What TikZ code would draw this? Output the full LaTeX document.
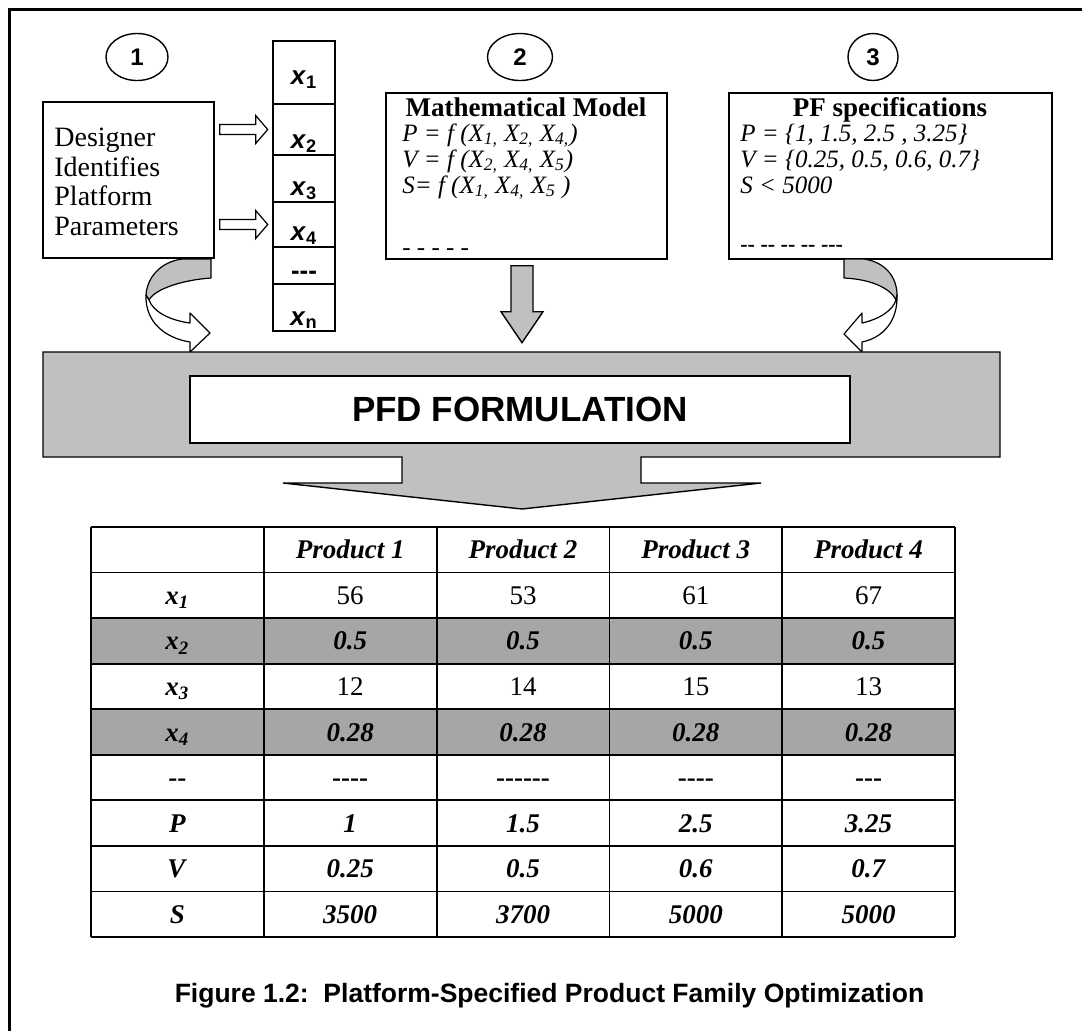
\documentclass[tikz,border=0pt]{standalone}
\usepackage{fontspec}
\setmainfont{Liberation Serif}
\newfontfamily\arialf{Liberation Sans}
\usetikzlibrary{positioning,calc,shapes.geometric}
\definecolor{cBar}{RGB}{192,192,192}
\definecolor{cRow}{RGB}{166,166,166}
\newcommand{\bi}[1]{\textbf{\textit{#1}}}
\newcommand{\tv}[1]{\bi{x\textsubscript{#1}}}
\tikzset{
  box/.style={draw, line width=0.7pt, fill=white, inner sep=0pt},
  numcirc/.style={draw, ellipse, line width=0.7pt, inner sep=0pt, minimum height=23.5pt,
    font=\arialf\bfseries\fontsize{12}{12}\selectfont},
  varcell/.style={draw, line width=0.9pt, minimum width=31pt, inner sep=0pt},
  varlbl/.style={anchor=base, inner sep=0pt, font=\arialf\bfseries\fontsize{13}{13}\selectfont},
  txtline/.style={anchor=base west, inner sep=0pt},
  hollow/.style={draw, line width=0.6pt, fill=white, line join=miter},
  ribbon/.style={draw, line width=0.6pt, line join=round},
  tcell/.style={anchor=base, inner sep=0pt, font=\fontsize{13.5}{14}\selectfont},
}

\begin{document}
\begin{tikzpicture}[x=0.5pt, y=-0.5pt]
\useasboundingbox (0,0) rectangle (1082,1030);
% frame
\draw[line width=1.5pt] (9,1040) -- (9,9) -- (1090,9);

% step numbers
\node[numcirc, minimum width=31pt] (n1) at (137,57) {1};
\node[numcirc, minimum width=32.5pt] (n2) at (520,57) {2};
\node[numcirc, minimum width=25pt] (n3) at (873,57) {3};

% step 1
\node[box, minimum width=85.5pt, minimum height=78pt] (dsg) at (128.5,180) {};
\foreach \yy/\txt in {146/Designer, 176/Identifies, 205/Platform, 235/Parameters}
  \node[txtline, font=\fontsize{14}{15}\selectfont] at (54,\yy) {\txt};

\foreach \tp/\bt/\nm in {41/104/x1, 104/155/x2, 155/202/x3, 202/247/x4, 247/284/xd, 284/331/xn} {
  \pgfmathsetmacro\hh{(\bt-\tp)*0.5}
  \node[varcell, minimum height=\hh pt] (\nm) at (304,{(\tp+\bt)/2}) {};
}
\foreach \nm/\s/\bl in {x1/1/84, x2/2/148, x3/3/195, x4/4/240, xn/n/325}
  \node[varlbl] (l\nm) at (\nm.center |- 0,\bl) {\textit{x}\textsubscript{\s}};
\node[varlbl] (lxd) at (xd.center |- 0,279) {-{}-{}-};

\foreach \nm in {x2,x4}
  \draw[hollow] ($(dsg.east |- \nm.west)+(5,-5)$) -- ++(36,0) -- ++(0,-9) -- ++(12,14)
    -- ++(-12,14) -- ++(0,-9) -- ++(-36,0) -- cycle;

% step 2
\node[box, minimum width=140.5pt, minimum height=83pt] (model) at (526.5,176) {};
\node[anchor=base, inner sep=0pt, font=\bfseries\fontsize{13.5}{14}\selectfont] (mtitle) at (526,116) {Mathematical Model};
\foreach \yy/\txt in {141/{P = f (X\textsubscript{1,} X\textsubscript{2,} X\textsubscript{4,})},
                      167/{V = f (X\textsubscript{2,} X\textsubscript{4,} X\textsubscript{5})},
                      193/{S= f (X\textsubscript{1,} X\textsubscript{4,} X\textsubscript{5} )},
                      255/{- - - - -}}
  \node[txtline, font=\itshape\fontsize{12.5}{13}\selectfont] at (402,\yy) {\txt};

% step 3
\node[box, minimum width=161.5pt, minimum height=83pt] (spec) at (890.5,176) {};
\node[anchor=base, inner sep=0pt, font=\bfseries\fontsize{13.5}{14}\selectfont] (stitle) at (890,116) {PF specifications};
\foreach \yy/\txt in {141/{P = \{1, 1.5, 2.5 , 3.25\}},
                      167/{V = \{0.25, 0.5, 0.6, 0.7\}},
                      193/{S < 5000}}
  \node[txtline, font=\itshape\fontsize{12.5}{13}\selectfont] at (740,\yy) {\txt};
\node[txtline, font=\bfseries\fontsize{11}{12}\selectfont] at (740,251) {-{}- -{}- -{}- -{}- -{}-{}-};

% arrows into the formulation
\draw[ribbon, fill=cBar] (211,259) -- (211,278) .. controls (182,280) and (155,289) .. (149,300)
  -- (146,295) .. controls (147,278) and (160,262) .. (182,259) -- cycle;
\draw[ribbon, fill=white] (146,295) .. controls (145,322) and (165,338) .. (190,342) -- (190,352)
  -- (210,333) -- (190,313) -- (190,323) .. controls (168,320) and (153,311) .. (149,300) -- cycle;
\draw[ribbon, fill=cBar] (844,259) -- (844,278) .. controls (868,279) and (890,287) .. (896,300)
  -- (897,295) .. controls (897,277) and (885,262) .. (864,259) -- cycle;
\draw[ribbon, fill=white] (897,295) .. controls (898,322) and (882,338) .. (862,342) -- (862,352)
  -- (844,334) -- (862,313) -- (862,323) .. controls (880,319) and (893,310) .. (896,300) -- cycle;
\draw[line width=0.7pt, fill=cBar] ($(model.south)+(-15.5,6)$) -- ++(22,0) -- ++(0,46) -- ++(10,0)
  -- ++(-21,31) -- ++(-21,-31) -- ++(10,0) -- cycle;

% formulation bar
\draw[line width=0.7pt, fill=cBar] (43,352) -- (1000,352) -- (1000,457) -- (641,457) -- (641,483)
  -- (761,483) -- (522,509) -- (283,483) -- (402,483) -- (402,457) -- (43,457) -- cycle;
\node[box, minimum width=330pt, minimum height=33.5pt,
  font=\arialf\bfseries\fontsize{17.5}{18}\selectfont] (pfd) at (520,409.5) {PFD FORMULATION};

% result table
\foreach \r in {2,4}
  \fill[cRow] (91,{527+\r*45.56}) rectangle (955,{527+(\r+1)*45.56});
\foreach \r in {0,...,9}
  \draw[line width=0.9pt] (91,{527+\r*45.56}) -- (955,{527+\r*45.56});
\foreach \cc in {0,...,5}
  \draw[line width=0.9pt] ({91+\cc*172.8},527) -- ({91+\cc*172.8},937);
\foreach \r/\va/\vb/\vc/\vd/\ve in {
    0/{}/\bi{Product 1}/\bi{Product 2}/\bi{Product 3}/\bi{Product 4},
    1/\tv{1}/56/53/61/67,
    2/\tv{2}/\bi{0.5}/\bi{0.5}/\bi{0.5}/\bi{0.5},
    3/\tv{3}/12/14/15/13,
    4/\tv{4}/\bi{0.28}/\bi{0.28}/\bi{0.28}/\bi{0.28},
    5/\textbf{-{}-}/\textbf{-{}-{}-{}-}/\textbf{-{}-{}-{}-{}-{}-}/\textbf{-{}-{}-{}-}/\textbf{-{}-{}-},
    6/\bi{P}/\bi{1}/\bi{1.5}/\bi{2.5}/\bi{3.25},
    7/\bi{V}/\bi{0.25}/\bi{0.5}/\bi{0.6}/\bi{0.7},
    8/\bi{S}/\bi{3500}/\bi{3700}/\bi{5000}/\bi{5000}} {
  \foreach \cc/\txt in {0/\va, 1/\vb, 2/\vc, 3/\vd, 4/\ve}
    \node[tcell] (t\r-\cc) at ({91+(\cc+0.5)*172.8},{527+(\r+0.5)*45.56+9}) {\txt};
}

\node[anchor=base, inner sep=0pt, font=\arialf\bfseries\fontsize{13.25}{14}\selectfont] (cap)
  at (549.5,1002) {Figure 1.2:\ \ Platform-Specified Product Family Optimization};
\end{tikzpicture}
\end{document}
